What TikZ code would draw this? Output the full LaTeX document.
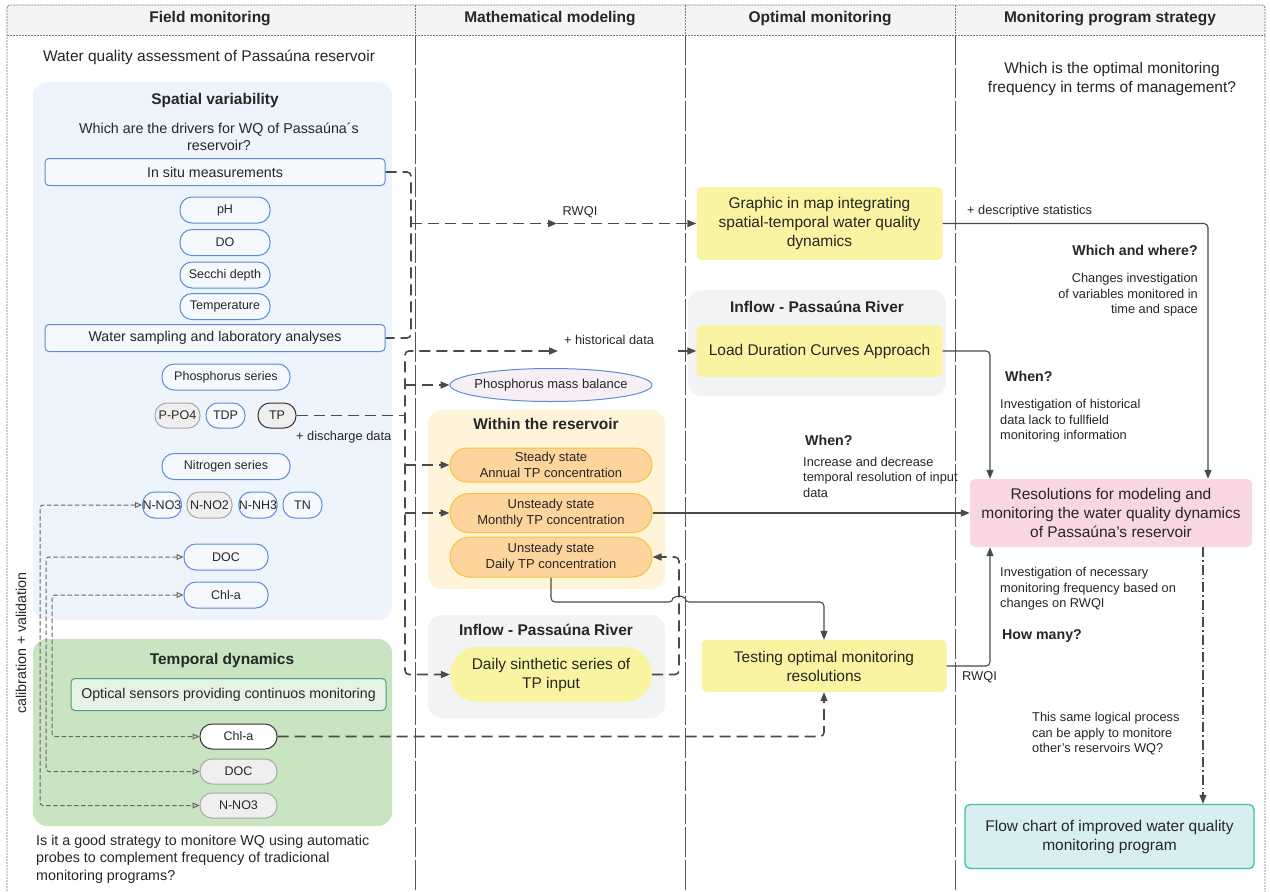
\documentclass[tikz,border=0pt]{standalone}
\usepackage{fontspec}
\setmainfont{Liberation Sans}
\usetikzlibrary{arrows.meta,fit,shapes.geometric}
\newcommand\myfs[2]{\fontsize{#1}{#2}\selectfont}
\definecolor{textc}{HTML}{262626}
\definecolor{hdrfill}{HTML}{F4F4F4}
\definecolor{framec}{HTML}{7A7A7A}
\definecolor{divc}{HTML}{555555}
\definecolor{spfill}{HTML}{EEF4FB}
\definecolor{tdfill}{HTML}{C8E4C0}
\definecolor{wrfill}{HTML}{FFF3D9}
\definecolor{grayreg}{HTML}{F2F3F5}
\definecolor{blueb}{HTML}{5B8ED6}
\definecolor{pillf}{HTML}{F5F8FD}
\definecolor{grayb}{HTML}{A8A8A8}
\definecolor{grayf}{HTML}{EFEFEF}
\definecolor{darkb}{HTML}{333333}
\definecolor{optb}{HTML}{4E9E80}
\definecolor{optf}{HTML}{E6F2E3}
\definecolor{orangef}{HTML}{FDD59C}
\definecolor{orangeb}{HTML}{F5C33B}
\definecolor{yellowf}{HTML}{F9F4A1}
\definecolor{pinkf}{HTML}{F8D6E4}
\definecolor{flowf}{HTML}{D8EFF1}
\definecolor{flowb}{HTML}{40BFA7}
\definecolor{pmbf}{HTML}{F8EEF5}
\definecolor{linec}{HTML}{4A4A4A}
\definecolor{calibc}{HTML}{666666}
\begin{document}
\begin{tikzpicture}[x=1pt,y=-1pt,
 every node/.style={text=textc},
 hdr/.style={font=\bfseries\myfs{15.5}{18}, inner sep=0pt},
 btxt/.style={font=\bfseries\myfs{15.5}{18}, inner sep=0pt},
 txt/.style={font=\myfs{15.5}{18.5}, inner sep=0pt, align=center},
 midtxt/.style={font=\myfs{14.3}{17.5}, inner sep=0pt, align=left},
 sm/.style={font=\myfs{12.8}{15.5}, inner sep=0pt, align=left},
 bsm/.style={font=\bfseries\myfs{14.2}{17}, inner sep=0pt},
 regionbox/.style={draw=none, rounded corners=14pt, inner sep=0pt},
 rbox/.style={draw=blueb, fill=pillf, line width=1pt, rounded corners=4pt, font=\myfs{14.2}{17}, minimum width=340pt, minimum height=27pt, inner sep=0pt},
 pill/.style={line width=1pt, rounded corners=12pt, font=\myfs{12.5}{15}, minimum height=26pt, inner sep=0pt},
 pb/.style={pill, draw=blueb, fill=pillf},
 pg/.style={pill, draw=grayb, fill=grayf},
 pd/.style={pill, draw=darkb, fill=grayf},
 ybox/.style={fill=yellowf, rounded corners=5pt, font=\myfs{15.5}{19}, align=center, inner sep=0pt},
 oval/.style={fill=orangef, draw=orangeb, line width=1pt, font=\myfs{13}{16}, align=center, minimum width=202pt, inner sep=0pt},
 tdash/.style={draw=linec, line width=1.6pt, dash pattern=on 11pt off 6pt},
 solidc/.style={draw=linec, line width=1.1pt},
 calib/.style={draw=calibc, line width=1pt, dash pattern=on 4.5pt off 2.5pt, {Triangle[open,length=7pt,width=6pt]}-{Triangle[open,length=7pt,width=6pt]}, rounded corners=3pt},
 arr/.style={-{Triangle[length=9pt,width=7pt]}},
 framed/.style={draw=framec, line width=0.8pt, dash pattern=on 2pt off 1pt},
 coldiv/.style={draw=divc, line width=0.8pt, dash pattern=on 30pt off 3pt},
]
\useasboundingbox (0,0) rectangle (1270,892);
\fill[white] (0,0) rectangle (1270,892);
% header and frame
\fill[hdrfill] (7,5) rectangle (1265,35);
\draw[framed, rounded corners=3pt] (7,900) -- (7,5) -- (1265,5) -- (1265,900);
\draw[framed] (7,35) -- (1265,35);
\foreach \xx in {415,685,955} {
  \draw[framed] (\xx,5) -- (\xx,35);
  \draw[coldiv] (\xx,35) -- (\xx,900);
}
\node[hdr] (h1) at (210,19) {Field monitoring};
\node[hdr] (h2) at (550,19) {Mathematical modeling};
\node[hdr] (h3) at (820,19) {Optimal monitoring};
\node[hdr] (h4) at (1110,19) {Monitoring program strategy};

% regions
\node[regionbox, fill=spfill, fit={(33,82) (392,620)}] (spatial) {};
\node[regionbox, fill=tdfill, fit={(33,639) (392,826)}] (temporal) {};
\node[regionbox, fill=wrfill, fit={(428,410) (665,589)}] (within) {};
\node[regionbox, fill=grayreg, fit={(428,615) (665,718)}] (inflowM) {};
\node[regionbox, fill=grayreg, fit={(688,290) (946,396)}] (inflowO) {};

% field monitoring texts
\node[txt] (t1) at (209,57) {Water quality assessment of Passaúna reservoir};
\node[btxt] (sv) at (215,100) {Spatial variability};
\node[midtxt, align=center] (q1) at (219,137) {Which are the drivers for WQ of Passaúna´s\\reservoir?};
\node[rbox] (insitu) at (215,172) {In situ measurements};
\node[pb, minimum width=90pt] (ph) at (225,210) {pH};
\node[pb, minimum width=90pt] (do) at (225,242.5) {DO};
\node[pb, minimum width=90pt] (secchi) at (225,275) {Secchi depth};
\node[pb, minimum width=90pt] (temp) at (225,306.5) {Temperature};
\node[rbox] (wsamp) at (215,338) {Water sampling and laboratory analyses};
\node[pb, minimum width=128pt] (phos) at (226,377) {Phosphorus series};
\node[pg, minimum width=45pt, minimum height=25pt] (ppo4) at (177.5,415.5) {P-PO4};
\node[pb, minimum width=39pt, minimum height=25pt] (tdp) at (225.5,415.5) {TDP};
\node[pd, minimum width=38pt, minimum height=25pt] (tp) at (277,415.5) {TP};
\node[sm, anchor=west] (dis) at (296,437) {+ discharge data};
\node[pb, minimum width=128pt] (nitro) at (226,466.5) {Nitrogen series};
\node[pb, minimum width=38pt] (nno3t) at (162,505) {N-NO3};
\node[pg, minimum width=45pt] (nno2) at (209.5,505) {N-NO2};
\node[pb, minimum width=38pt] (nnh3) at (258,505) {N-NH3};
\node[pb, minimum width=39pt] (tn) at (302.5,505) {TN};
\node[pb, minimum width=84pt] (doct) at (226,557) {DOC};
\node[pb, minimum width=84pt] (chlt) at (226,595) {Chl-a};
\node[btxt] (tdh) at (222,660) {Temporal dynamics};
\node[rbox, draw=optb, fill=optf, minimum width=315pt, minimum height=32pt] (optical) at (228.5,694.5) {Optical sensors providing continuos monitoring};
\node[pill, draw=darkb, fill=white, minimum width=77pt, minimum height=25pt] (chlb) at (238.5,736.5) {Chl-a};
\node[pg, minimum width=77pt, minimum height=25pt] (docb) at (238.5,771.5) {DOC};
\node[pg, minimum width=77pt, minimum height=25pt] (nno3b) at (238.5,805.5) {N-NO3};
\node[midtxt, anchor=west] (q2) at (36,859) {Is it a good strategy to monitore WQ using automatic\\probes to complement frequency of tradicional\\monitoring programs?};
\node[midtxt, rotate=90] (cal) at (21,643) {calibration + validation};

% mathematical modeling
\node[ellipse, fill=pmbf, draw=blueb, line width=1pt, minimum width=202pt, minimum height=33pt, inner xsep=-6pt, inner ysep=0pt, font=\myfs{13}{16}] (pmb) at (551,385) {Phosphorus mass balance};
\node[btxt] (wrt) at (546,424) {Within the reservoir};
\node[oval, minimum height=34pt, rounded corners=17pt] (steady) at (551,465) {Steady state\\Annual TP concentration};
\node[oval, minimum height=39pt, rounded corners=19pt] (umonthly) at (551,513) {Unsteady state\\Monthly TP concentration};
\node[oval, minimum height=40pt, rounded corners=20pt] (udaily) at (551,557) {Unsteady state\\Daily TP concentration};
\node[btxt] (ift) at (546,630) {Inflow - Passaúna River};
\node[ybox, minimum width=202pt, minimum height=55pt, rounded corners=27pt] (dsyn) at (551,674.5) {Daily sinthetic series of\\TP input};

% optimal monitoring
\node[ybox, minimum width=246pt, minimum height=73pt] (graphic) at (819.5,223.5) {Graphic in map integrating\\spatial-temporal water quality\\dynamics};
\node[btxt] (ift2) at (817,307) {Inflow - Passaúna River};
\node[ybox, minimum width=246pt, minimum height=52pt] (load) at (819.5,351) {Load Duration Curves Approach};
\node[ybox, minimum width=245pt, minimum height=52pt] (testing) at (824,666) {Testing optimal monitoring\\resolutions};

% strategy
\node[txt] (q3) at (1112,79) {Which is the optimal monitoring\\frequency in terms of management?};
\node[ybox, fill=pinkf, minimum width=282pt, minimum height=68pt] (res) at (1111,513) {Resolutions for modeling and\\monitoring the water quality dynamics\\of Passaúna's reservoir};
\node[ybox, fill=flowf, draw=flowb, line width=1.3pt, minimum width=289pt, minimum height=64pt] (flow) at (1109.5,836.5) {Flow chart of improved water quality\\monitoring program};

% labels
\node[sm] (l1) at (580,212) {RWQI};
\node[sm] (l2) at (609,340) {+ historical data};
\node[sm, anchor=west] (l3) at (967,211) {+ descriptive statistics};
\node[sm, anchor=west] (l4) at (962,677) {RWQI};
\node[bsm, anchor=east] (ww) at (1198,250) {Which and where?};
\node[sm, align=right, anchor=east] (ww2) at (1198,295) {Changes investigation\\of variables monitored in\\time and space};
\node[bsm, anchor=west] (wh1) at (1005,376) {When?};
\node[sm, anchor=west] (wh1t) at (1000,421) {Investigation of historical\\data lack to fullfield\\monitoring information};
\node[bsm, anchor=west] (wh2) at (805,440) {When?};
\node[sm, anchor=west] (wh2t) at (803,477) {Increase and decrease\\temporal resolution of input\\data};
\node[sm, anchor=west] (hmt) at (1000,589) {Investigation of necessary\\monitoring frequency based on\\changes on RWQI};
\node[bsm, anchor=west] (hm) at (1002,636) {How many?};
\node[sm, anchor=west] (slp) at (1032,734) {This same logical process\\can be apply to monitore\\other's reservoirs WQ?};

% coordinates
\coordinate (j1) at (411,223.5);
\coordinate (m1) at (557,223.5);
\coordinate (m2) at (558,351);
\coordinate (g2) at (678,351);

% connectors: field -> optimal
\draw[tdash, rounded corners=4pt] (insitu.east) -- (411,172) -- (411,338) -- (wsamp.east);
\draw[tdash, arr] (j1) -- (m1);
\draw[tdash, arr] (m1) -- (graphic.west);
\draw[tdash] (tp.east) -- (405,415.5);
\draw[tdash, rounded corners=4pt, {Triangle[length=9pt,width=7pt]}-{Triangle[length=9pt,width=7pt]}] (m2) -- (405,351) -- (405,674.5) -- (dsyn.west);
\draw[tdash, arr] (405,385) -- (pmb.west);
\draw[tdash, arr] (405,465) -- (steady.west);
\draw[tdash, arr] (405,513) -- (umonthly.west);
\draw[solidc, arr] (g2) -- (load.west);
\draw[tdash, arr, rounded corners=4pt] (dsyn.east) -- (679,674.5) -- (679,557) -- (udaily.east);
\draw[solidc, arr, rounded corners=4pt] (udaily.south) -- (551,602) -- (673,602) arc[start angle=180, end angle=0, radius=6pt] -- (824,602) -- (testing.north);
\draw[tdash, arr, rounded corners=4pt] (chlb.east) -| (testing.south);
\draw[solidc, arr] (umonthly.east) -- (res.west);
\draw[solidc, arr, rounded corners=4pt] (graphic.east) -| ([xshift=97pt]res.north);
\draw[solidc, arr, rounded corners=4pt] (load.east) -| ([xshift=-121pt]res.north);
\draw[solidc, arr, rounded corners=4pt] (testing.east) -| ([xshift=-121pt]res.south);
\draw[draw=linec, line width=1.1pt, dash pattern=on 10pt off 3pt on 1.5pt off 3pt, arr] ([xshift=92pt]res.south) -- ([xshift=92pt]res.south |- flow.north);

% calibration lines
\draw[calib] (nno3t.west) -- (40,505) -- (40,805.5) -- (nno3b.west);
\draw[calib] (doct.west) -- (46,557) -- (46,771.5) -- (docb.west);
\draw[calib] (chlt.west) -- (52,595) -- (52,736.5) -- (chlb.west);
\end{tikzpicture}
\end{document}
